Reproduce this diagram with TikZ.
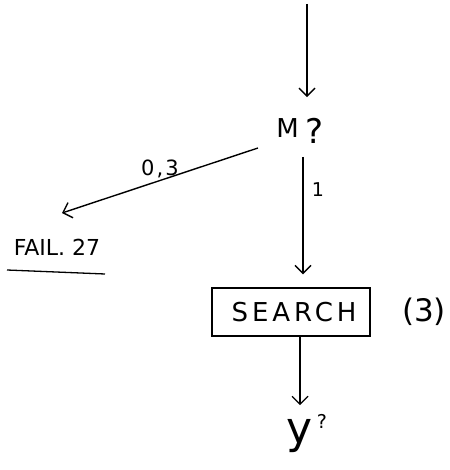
\documentclass[tikz,border=0pt]{standalone}
\usepackage{fontspec}
\setmainfont{DejaVu Sans}
\usetikzlibrary{arrows.meta}
\begin{document}
\begin{tikzpicture}[x=1pt,y=-1pt,
  line width=1.4pt,
  arr/.style={-{Straight Barb[length=8pt,width=16pt,line width=1.4pt]}},
  lbl/.style={inner sep=0pt,font=\fontsize{20}{20}\selectfont},
  boxed/.style={draw,line width=1.3pt,minimum width=158pt,minimum height=48pt,inner sep=0pt,
    font=\fontsize{26}{26}\selectfont\addfontfeature{LetterSpace=15}}]
\useasboundingbox (0,0) rectangle (449,470);
\coordinate (top) at (307,4);
\node[lbl,anchor=base,font=\fontsize{26}{26}\selectfont] (M) at (300,138) {M\hspace{7pt}\raisebox{-6pt}{\fontsize{34}{34}\selectfont ?}};
\node[lbl,font=\fontsize{22}{22}\selectfont] (fail) at (57,247) {FAIL. 27};
\node[boxed] (search) at (291,312) {\hspace{6pt}SEARCH};
\node[lbl,font=\fontsize{31}{31}\selectfont] (three) at (424,312) {(3)};
\node[lbl,anchor=base,font=\fontsize{44}{44}\selectfont] (y) at (300,443) {y};
\node[lbl,font=\fontsize{19}{19}\selectfont] (q) at (322,421) {?};
\node[lbl,font=\fontsize{19}{19}\selectfont] (one) at (318,190) {1};
\node[lbl,font=\fontsize{21}{21}\selectfont\addfontfeature{LetterSpace=10}] (zt) at (160,169) {0,3};
% connectors
\draw[arr] (top) -- (M.north -| top) [shorten >=21pt];
\draw[arr,shorten <=19pt,shorten >=13pt] ([xshift=3pt]M.base) -- ([xshift=3pt]M.base |- search.north);
\draw[arr] ([xshift=-42pt,yshift=-10pt]M.base) -- ([xshift=5pt,yshift=34pt]fail.center);
\draw[line width=1.3pt] ([xshift=-50pt,yshift=-23pt]fail.center) -- ([xshift=48pt,yshift=-27pt]fail.center);
\draw[arr,shorten >=13pt] ([xshift=9pt]search.south) -- ([xshift=9pt]search.south |- y.north);
\end{tikzpicture}
\end{document}
